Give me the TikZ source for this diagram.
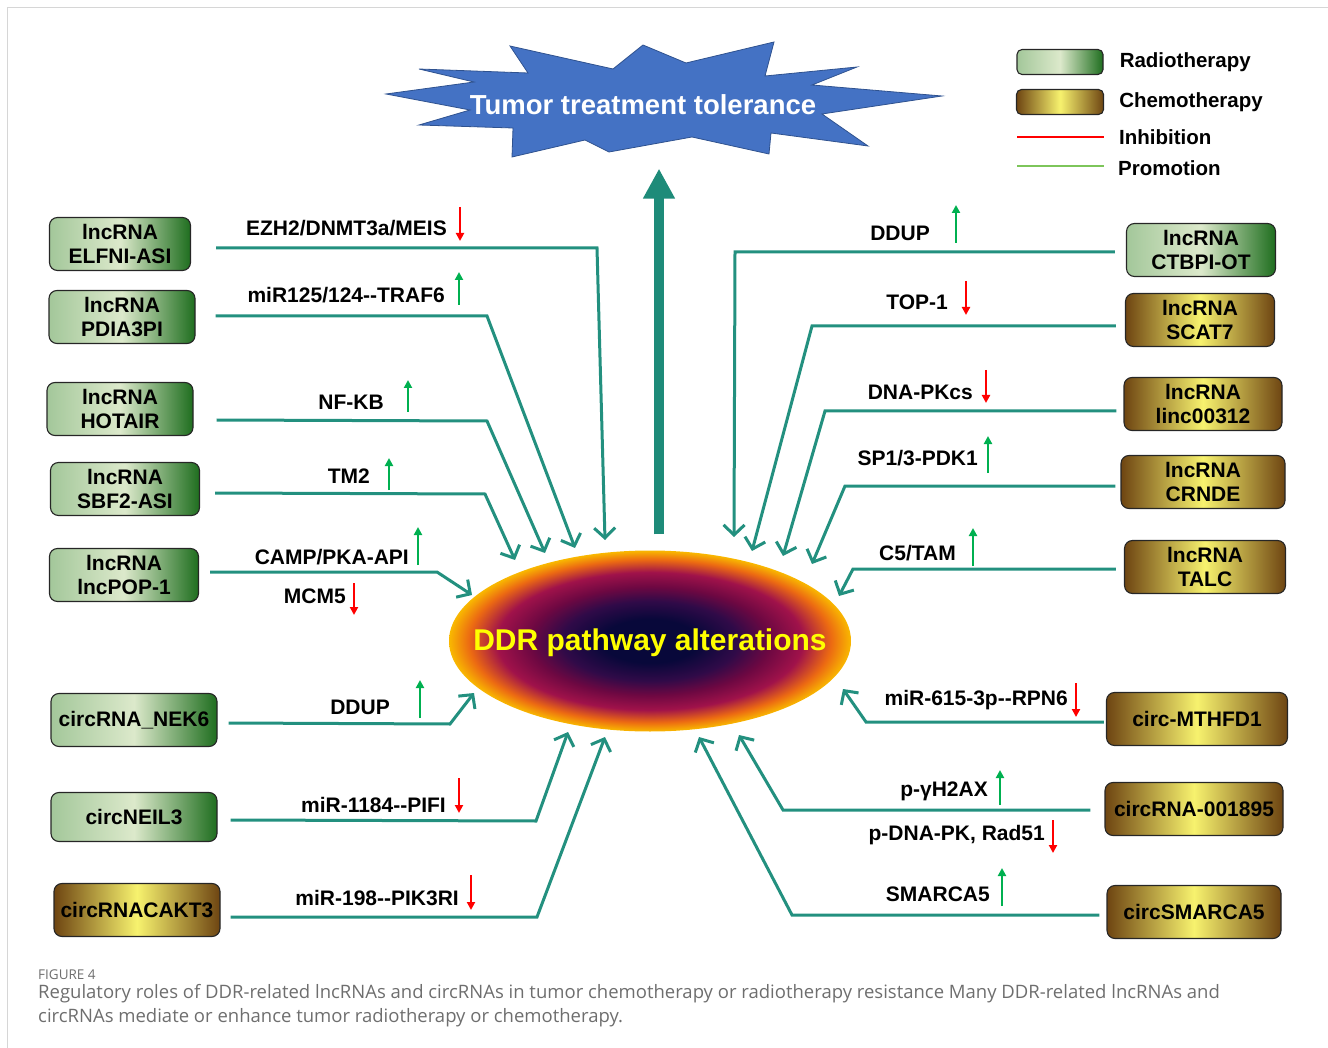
\documentclass[tikz,border=0pt]{standalone}
\usepackage{fontspec}
\setmainfont{Liberation Sans}
\newfontfamily\capfont{Open Sans}
\usepackage{xcolor}
\usepackage{tikz}
\usetikzlibrary{arrows.meta,positioning,shapes.geometric}
\definecolor{radlight}{HTML}{A3C79A}
\definecolor{radmid}{HTML}{DCE9CB}
\definecolor{raddark}{HTML}{1F6E1F}
\definecolor{chemdark}{HTML}{6E4512}
\definecolor{chemmid}{HTML}{F7F26E}
\definecolor{linkteal}{HTML}{23907F}
\definecolor{bigteal}{HTML}{1E8B79}
\definecolor{upgreen}{HTML}{00B050}
\definecolor{downred}{HTML}{FF0000}
\definecolor{promgreen}{HTML}{7DC55A}
\definecolor{burstblue}{HTML}{4472C4}
\definecolor{burstedge}{HTML}{2F528F}
\definecolor{ddrnavy}{HTML}{08083A}
\definecolor{ddrdeep}{HTML}{300A48}
\definecolor{ddrplum}{HTML}{6E0842}
\definecolor{ddrred}{HTML}{A0124A}
\definecolor{ddrorange}{HTML}{EC6A12}
\definecolor{ddramber}{HTML}{F9B800}
\definecolor{ddryellow}{HTML}{FFFF00}
\definecolor{capgray}{HTML}{6E6E6E}
\definecolor{framegray}{HTML}{D6D6D6}
\pgfdeclareradialshading{ddrglow}{\pgfpoint{0bp}{0bp}}{color(0bp)=(ddrnavy); color(6bp)=(ddrnavy); color(11bp)=(ddrdeep); color(15bp)=(ddrplum); color(19bp)=(ddrred); color(22.5bp)=(ddrorange); color(25bp)=(ddramber); color(50bp)=(ddramber)}

\begin{document}
\begin{tikzpicture}[x=1pt,y=-1pt,
  rnabox/.style={draw=black!85,line width=1.1pt,rounded corners=8pt,minimum height=53pt,inner sep=0pt,align=center,font=\bfseries\fontsize{21}{24}\selectfont},
  radbox/.style={rnabox,left color=radlight,right color=raddark,middle color=radmid},
  chembox/.style={rnabox,left color=chemdark,right color=chemdark,middle color=chemmid},
  lab/.style={anchor=east,inner sep=0pt,font=\bfseries\fontsize{21}{24}\selectfont},
  legtext/.style={inner sep=0pt,font=\bfseries\fontsize{20.5}{24}\selectfont},
  link/.style={draw=linkteal,line width=3pt,-{Straight Barb[length=10pt,width=21pt]}},
  uparr/.style={draw=upgreen,line width=2.3pt,-{Triangle[length=8pt,width=8pt]}},
  downarr/.style={draw=downred,line width=2.3pt,-{Triangle[length=8pt,width=8pt]}}
]
\useasboundingbox (0,0) rectangle (1328,1048);
\draw[framegray,line width=1pt] (7,1048) -- (7,8) -- (1328,8);

% starburst on top
\filldraw[fill=burstblue,draw=burstedge,line width=0.8pt]
  (386,94) -- (474,82) -- (419,69) -- (528,73) -- (510,46) -- (613,69)
  -- (643,45) -- (686,63) -- (774,42) -- (765,76) -- (857,67) -- (812,85)
  -- (942,96) -- (822,114) -- (868,146) -- (771,133) -- (769,154) -- (692,137)
  -- (609,152) -- (585,140) -- (512,157) -- (513,128) -- (419,125) -- (470,110) -- cycle;
\node[text=white,font=\bfseries\fontsize{27.5}{32}\selectfont] (tol) at (643,105) {Tumor treatment tolerance};

% DDR ellipse
\node[ellipse,shade,shading=ddrglow,minimum width=402pt,minimum height=181pt,inner sep=0pt] (ddr) at (650,641) {};
\node[text=ddryellow,font=\bfseries\fontsize{30}{34}\selectfont] (ddrtxt) at (650,643) {DDR pathway alterations};
\draw[bigteal,line width=10pt,-{Triangle[length=30pt,width=30pt]}] ([xshift=9pt,yshift=16pt]ddr.north) -- ([xshift=16pt,yshift=-50pt]tol.south);

% legend
\node[radbox,minimum width=86pt,minimum height=25pt,rounded corners=5pt] (legrad) at (1060,62) {};
\node[legtext,right=16pt of legrad] {Radiotherapy};
\node[chembox,minimum width=87pt,minimum height=25pt,rounded corners=5pt] (legchem) at (1060,102) {};
\node[legtext,right=15pt of legchem] {Chemotherapy};
\coordinate (inhA) at (1017,137);
\coordinate (inhB) at (1104,137);
\draw[downred,line width=1.3pt] (inhA) -- (inhB);
\node[legtext,right=15pt of inhB] {Inhibition};
\coordinate (proA) at (1017,166);
\coordinate (proB) at (1104,166);
\draw[promgreen,line width=1.5pt] (proA) -- (proB);
\node[legtext,right=14pt of proB,yshift=-2pt] {Promotion};

% left boxes
\node[radbox,minimum width=141pt] (b1) at (120,244) {lncRNA\\ELFNI-ASI};
\node[radbox,minimum width=146pt] (b2) at (122,317) {lncRNA\\PDIA3PI};
\node[radbox,minimum width=146pt] (b3) at (120,409) {lncRNA\\HOTAIR};
\node[radbox,minimum width=149pt] (b4) at (125,489) {lncRNA\\SBF2-ASI};
\node[radbox,minimum width=149pt] (b5) at (124,575) {lncRNA\\lncPOP-1};
\node[radbox,minimum width=166pt] (b6) at (134,720) {circRNA\_NEK6};
\node[radbox,minimum width=166pt,minimum height=49pt] (b7) at (134,817) {circNEIL3};
\node[chembox,minimum width=166pt] (b8) at (137,910) {circRNACAKT3};

% right boxes
\node[radbox,minimum width=149pt] (c1) at (1201,250) {lncRNA\\CTBPI-OT};
\node[chembox,minimum width=149pt] (c2) at (1200,320) {lncRNA\\SCAT7};
\node[chembox,minimum width=158pt] (c3) at (1203,404) {lncRNA\\linc00312};
\node[chembox,minimum width=164pt] (c4) at (1203,482) {lncRNA\\CRNDE};
\node[chembox,minimum width=161pt] (c5) at (1205,567) {lncRNA\\TALC};
\node[chembox,minimum width=181pt] (c6) at (1197,719) {circ-MTHFD1};
\node[chembox,minimum width=178pt] (c7) at (1194,809) {circRNA-001895};
\node[chembox,minimum width=174pt] (c8) at (1194,912) {circSMARCA5};

% arrow tips at the ellipse
\coordinate (t1) at (605,540);
\coordinate (t2) at (575,548);
\coordinate (t3) at (545,553);
\coordinate (t4) at (515,560);
\coordinate (t5) at (472,595);
\coordinate (t6) at (474,693);
\coordinate (t7) at (568,732);
\coordinate (t8) at (605,737);
\coordinate (s1) at (734,537);
\coordinate (s2) at (752,551);
\coordinate (s3) at (783,556);
\coordinate (s4) at (812,564);
\coordinate (s5) at (839,596);
\coordinate (s6) at (843,689);
\coordinate (s7) at (739,735);
\coordinate (s8) at (699,737);

% connectors
\draw[link] ([xshift=25pt,yshift=-4pt]b1.east) -- (597,248) -- (t1);
\draw[link] ([xshift=20pt,yshift=1pt]b2.east) -- (487,316) -- (t2);
\draw[link] ([xshift=23pt,yshift=-11pt]b3.east) -- (487,421) -- (t3);
\draw[link] ([xshift=15pt,yshift=-4pt]b4.east) -- (485,494) -- (t4);
\draw[link] ([xshift=11pt,yshift=3pt]b5.east) -- (437,572) -- (t5);
\draw[link] ([xshift=11pt,yshift=-3pt]b6.east) -- (450,724) -- (t6);
\draw[link] ([xshift=13pt,yshift=-3pt]b7.east) -- (536,821) -- (t7);
\draw[link] ([xshift=10pt,yshift=-7pt]b8.east) -- (537,917) -- (t8);
\draw[link] ([xshift=-11pt,yshift=-2pt]c1.west) -- (735,252) -- (s1);
\draw[link] ([xshift=-9pt,yshift=-6pt]c2.west) -- (812,326) -- (s2);
\draw[link] ([xshift=-7pt,yshift=-7pt]c3.west) -- (825,411) -- (s3);
\draw[link] ([xshift=-5pt,yshift=-4pt]c4.west) -- (845,486) -- (s4);
\draw[link] ([xshift=-8pt,yshift=-2pt]c5.west) -- (853,569) -- (s5);
\draw[link] ([xshift=-2pt,yshift=-3pt]c6.west) -- (866,722) -- (s6);
\draw[link] ([xshift=-14pt,yshift=-1pt]c7.west) -- (783,810) -- (s7);
\draw[link] ([xshift=-7pt,yshift=-3pt]c8.west) -- (792,915) -- (s8);

% left labels
\node[lab] (l1) at (447,228) {EZH2/DNMT3a/MEIS};
\draw[downarr] (l1.east) ++(13,-21) -- ++(0,34);
\node[lab] (l2) at (445,295) {miR125/124-{}-TRAF6};
\draw[uparr] (l2.east) ++(14,10) -- ++(0,-33);
\node[lab] (l3) at (384,402) {NF-KB};
\draw[uparr] (l3.east) ++(24,10) -- ++(0,-32);
\node[lab] (l4) at (370,476) {TM2};
\draw[uparr] (l4.east) ++(19,14) -- ++(0,-32);
\node[lab] (l5) at (409,557) {CAMP/PKA-API};
\draw[uparr] (l5.east) ++(9,8) -- ++(0,-38);
\node[lab] (l6) at (346,596) {MCM5};
\draw[downarr] (l6.east) ++(8,-13) -- ++(0,32);
\node[lab] (l7) at (390,707) {DDUP};
\draw[uparr] (l7.east) ++(30,11) -- ++(0,-38);
\node[lab] (l8) at (446,805) {miR-1184-{}-PIFI};
\draw[downarr] (l8.east) ++(13,-27) -- ++(0,35);
\node[lab] (l9) at (459,898) {miR-198-{}-PIK3RI};
\draw[downarr] (l9.east) ++(12,-23) -- ++(0,35);

% right labels
\node[lab] (r1) at (930,233) {DDUP};
\draw[uparr] (r1.east) ++(26,10) -- ++(0,-38);
\node[lab] (r2) at (948,302) {TOP-1};
\draw[downarr] (r2.east) ++(18,-21) -- ++(0,34);
\node[lab] (r3) at (973,392) {DNA-PKcs};
\draw[downarr] (r3.east) ++(13,-22) -- ++(0,33);
\node[lab] (r4) at (978,458) {SP1/3-PDK1};
\draw[uparr] (r4.east) ++(10,15) -- ++(0,-37);
\node[lab] (r5) at (956,553) {C5/TAM};
\draw[uparr] (r5.east) ++(17,13) -- ++(0,-38);
\node[lab] (r6) at (1068,700) {miR-615-3p-{}-RPN6};
\draw[downarr] (r6.east) ++(8,-17) -- ++(0,34);
\node[lab] (r7) at (988,791) {p-γH2AX};
\draw[uparr] (r7.east) ++(12,14) -- ++(0,-35);
\node[lab] (r8) at (1045,835) {p-DNA-PK, Rad51};
\draw[downarr] (r8.east) ++(8,-15) -- ++(0,33);
\node[lab] (r9) at (990,894) {SMARCA5};
\draw[uparr] (r9.east) ++(12,12) -- ++(0,-38);

% caption
\node[anchor=west,inner sep=0pt,text=capgray,font=\capfont\fontsize{13.5}{15}\selectfont] (fig) at (38,975) {FIGURE 4};
\node[anchor=north west,inner sep=0pt,align=left,text=capgray,font=\capfont\fontsize{18.5}{24}\selectfont] (cap) at (38,984) {Regulatory roles of DDR-related lncRNAs and circRNAs in tumor chemotherapy or radiotherapy resistance Many DDR-related lncRNAs and\\circRNAs mediate or enhance tumor radiotherapy or chemotherapy.};
\end{tikzpicture}
\end{document}
